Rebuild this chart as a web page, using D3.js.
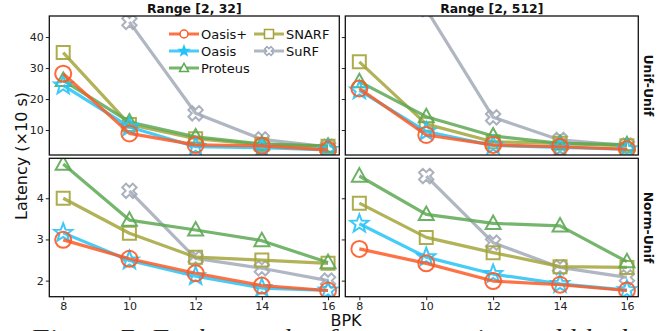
<!DOCTYPE html>
<html><head><meta charset="utf-8">
<script src="https://cdn.jsdelivr.net/npm/d3@7"></script>
<style>
html,body{margin:0;padding:0;background:#fff;}
svg{display:block;font-family:"DejaVu Sans",sans-serif;}
</style></head>
<body>
<svg id="c" width="670" height="331"></svg>
<script>
// ---------- data ----------
const bpk = [8, 10, 12, 14, 16];
const seriesNames = ["Oasis+", "Oasis", "Proteus", "SNARF", "SuRF"];
const colTitles = ["Range [2, 32]", "Range [2, 512]"];
const rowTitles = ["Unif-Unif", "Norm-Unif"];
const topTicks = [10, 20, 30, 40];
const bottomTicks = [2, 3, 4];
const xTicks = [8, 10, 12, 14, 16];

// Unif-Unif, Range [2, 32]
const uu32OasisPlus = [28.2, 8.9, 5.2, 4.9, 3.6];
const uu32Oasis     = [24.4, 11.0, 4.6, 4.3, 3.6];
const uu32Proteus   = [26.0, 12.6, 7.8, 5.5, 4.8];
const uu32Snarf     = [35.0, 11.8, 7.2, 5.3, 4.8];
const uu32Surf      = [null, 44.9, 15.4, 7.0, 4.6];
// Unif-Unif, Range [2, 512]
const uu512OasisPlus = [23.4, 8.4, 5.2, 4.6, 3.8];
const uu512Oasis     = [22.8, 9.5, 5.0, 4.4, 3.8];
const uu512Proteus   = [25.6, 14.3, 8.1, 5.7, 5.3];
const uu512Snarf     = [32.0, 11.9, 6.2, 5.7, 4.9];
const uu512Surf      = [null, 49.0, 14.1, 6.8, 5.0];
// Norm-Unif, Range [2, 32]
const nu32OasisPlus = [2.99, 2.53, 2.18, 1.88, 1.76];
const nu32Oasis     = [3.16, 2.49, 2.11, 1.82, 1.76];
const nu32Proteus   = [4.83, 3.47, 3.23, 2.97, 2.44];
const nu32Snarf     = [4.00, 3.15, 2.57, 2.50, 2.42];
const nu32Surf      = [null, 4.18, 2.54, 2.30, 2.00];
// Norm-Unif, Range [2, 512]
const nu512OasisPlus = [2.77, 2.42, 1.99, 1.90, 1.76];
const nu512Oasis     = [3.38, 2.57, 2.16, 1.92, 1.77];
const nu512Proteus   = [4.54, 3.61, 3.39, 3.33, 2.46];
const nu512Snarf     = [3.88, 3.05, 2.68, 2.34, 2.32];
const nu512Surf      = [null, 4.54, 2.92, 2.32, 2.08];

const panelData = [
  [[uu32OasisPlus, uu32Oasis, uu32Proteus, uu32Snarf, uu32Surf],
   [uu512OasisPlus, uu512Oasis, uu512Proteus, uu512Snarf, uu512Surf]],
  [[nu32OasisPlus, nu32Oasis, nu32Proteus, nu32Snarf, nu32Surf],
   [nu512OasisPlus, nu512Oasis, nu512Proteus, nu512Snarf, nu512Surf]]
];

// ---------- styles ----------
const colors = {"Oasis+":"#fd5a26","Oasis":"#27c3f7","Proteus":"#5da853","SNARF":"#a4a43c","SuRF":"#a2aab7"};
const markers = {"Oasis+":"circle","Oasis":"star","Proteus":"triangle","SNARF":"square","SuRF":"x"};
const drawOrder = ["SuRF","SNARF","Proteus","Oasis","Oasis+"];

const colX = [[49.3, 339.3], [345.3, 638.3]];
const rowY = [[16, 155], [158.3, 296.7]];
const yDomains = [[1.94, 46.8], [1.61, 4.97]];
const xDomain = [7.58, 16.34];

const svg = d3.select("#c");

function markerPath(type, s) {
  const r = s / 2;
  if (type === "circle") { const p = d3.path(); p.moveTo(r, 0); p.arc(0, 0, r, 0, 2*Math.PI); p.closePath(); return p.toString(); }
  if (type === "square") return `M${-r},${-r}H${r}V${r}H${-r}Z`;
  if (type === "triangle") { const h = r; return `M0,${-h*1.05}L${h},${h*0.75}L${-h},${h*0.75}Z`; }
  if (type === "star") {
    let pts = [];
    for (let i = 0; i < 10; i++) {
      const a = -Math.PI/2 + i*Math.PI/5;
      const rr = i % 2 === 0 ? r : r*0.42;
      pts.push([rr*Math.cos(a), rr*Math.sin(a)]);
    }
    return "M" + pts.map(p => p.join(",")).join("L") + "Z";
  }
  if (type === "x") {
    const a = r*0.36, b = r;
    const base = [[-a,-b],[a,-b],[a,-a],[b,-a],[b,a],[a,a],[a,b],[-a,b],[-a,a],[-b,a],[-b,-a],[-a,-a]];
    const c = Math.SQRT1_2;
    const pts = base.map(([x,y]) => [(x - y)*c, (x + y)*c]);
    return "M" + pts.map(p => p.join(",")).join("L") + "Z";
  }
}
const mSize = {"circle":16,"star":19,"triangle":15,"square":13,"x":15};

const defs = svg.append("defs");

for (let ri = 0; ri < 2; ri++) {
  for (let ci = 0; ci < 2; ci++) {
    const [x0, x1] = colX[ci], [y0, y1] = rowY[ri];
    const x = d3.scaleLinear().domain(xDomain).range([x0, x1]);
    const y = d3.scaleLinear().domain(yDomains[ri]).range([y1, y0]);
    const id = `clip${ri}${ci}`;
    defs.append("clipPath").attr("id", id).append("rect")
      .attr("x", x0).attr("y", y0).attr("width", x1 - x0).attr("height", y1 - y0);
    const g = svg.append("g").attr("clip-path", `url(#${id})`);
    const data = panelData[ri][ci];
    const line = d3.line().defined(d => d[1] != null).x(d => x(d[0])).y(d => y(d[1]));
    drawOrder.forEach(name => {
      const si = seriesNames.indexOf(name);
      const pts = bpk.map((b, i) => [b, data[si][i]]);
      const col = colors[name];
      g.append("path").datum(pts).attr("d", line)
        .attr("fill", "none").attr("stroke", col).attr("stroke-width", 3.2)
        .attr("stroke-opacity", 0.85).attr("stroke-linejoin", "round");
      g.selectAll(null).data(pts.filter(d => d[1] != null)).enter().append("path")
        .attr("d", markerPath(markers[name], mSize[markers[name]]))
        .attr("transform", d => `translate(${x(d[0])},${y(d[1])})`)
        .attr("fill", "none").attr("stroke", col).attr("stroke-width", 2)
        .attr("stroke-opacity", 0.9);
    });
    svg.append("rect").attr("x", x0).attr("y", y0).attr("width", x1 - x0).attr("height", y1 - y0)
      .attr("fill", "none").attr("stroke", "#111").attr("stroke-width", 1.3);
    const ticks = ri === 0 ? topTicks : bottomTicks;
    const ya = svg.append("g").attr("transform", `translate(${x0},0)`)
      .call(d3.axisLeft(y).tickValues(ticks).tickSize(3.5).tickPadding(2)
        .tickFormat(ci === 0 ? d3.format("d") : () => ""));
    ya.select(".domain").remove();
    ya.selectAll("text").attr("font-size", 11).attr("fill", "#222").attr("font-family", "DejaVu Sans");
    ya.selectAll("line").attr("stroke", "#222");
    if (ri === 1) {
      const xa = svg.append("g").attr("transform", `translate(0,${y1})`)
        .call(d3.axisBottom(x).tickValues(xTicks).tickSize(3.5).tickPadding(2).tickFormat(d3.format("d")));
      xa.select(".domain").remove();
      xa.selectAll("text").attr("font-size", 11).attr("fill", "#222").attr("font-family", "DejaVu Sans");
      xa.selectAll("line").attr("stroke", "#222");
    }
    if (ri === 0) {
      svg.append("text").attr("x", (x0 + x1) / 2).attr("y", 13).attr("text-anchor", "middle")
        .attr("font-weight", "bold").attr("font-size", 12.4).attr("fill", "#111").text(colTitles[ci]);
    }
    if (ci === 1) {
      const cy = (y0 + y1) / 2;
      svg.append("text").attr("transform", `translate(644,${cy}) rotate(90)`)
        .attr("text-anchor", "middle").attr("font-weight", "bold").attr("font-size", 12.4)
        .attr("fill", "#111").text(rowTitles[ri]);
    }
  }
}

// legend
const legendPos = [[169, 34], [169, 51], [169, 68], [254, 34], [254, 51]];
const legSize = {"circle":8,"star":10,"triangle":9,"square":9,"x":9};
seriesNames.forEach((name, i) => {
  const [lx, ly] = legendPos[i];
  const col = colors[name];
  const lg = svg.append("g");
  lg.append("line").attr("x1", lx).attr("x2", lx + 30).attr("y1", ly).attr("y2", ly)
    .attr("stroke", col).attr("stroke-width", 3).attr("stroke-opacity", 0.85);
  lg.append("path").attr("d", markerPath(markers[name], legSize[markers[name]]))
    .attr("transform", `translate(${lx + 15},${ly})`)
    .attr("fill", name === "Oasis" ? col : "#fff").attr("stroke", col).attr("stroke-width", 1.5);
  lg.append("text").attr("x", lx + 32).attr("y", ly + 5).attr("font-size", 13)
    .attr("fill", "#111").text(name);
});

// axis labels
svg.append("text").attr("transform", "translate(27,156) rotate(-90)").attr("text-anchor", "middle")
  .attr("font-size", 16).attr("fill", "#111").text("Latency (×10 s)");
svg.append("text").attr("x", 346).attr("y", 326).attr("text-anchor", "middle")
  .attr("font-size", 16).attr("fill", "#111").text("BPK");

// caption (cut off at the bottom of the picture, as in the reference)
svg.append("text").attr("x", 30).attr("y", 345).attr("font-size", 24)
  .attr("font-family", "Liberation Serif, serif").attr("font-style", "italic")
  .attr("fill", "#222").attr("textLength", 615).attr("lengthAdjust", "spacingAndGlyphs")
  .text("Figure 7: Each sample of range queries and blocks");
</script>
</body></html>
